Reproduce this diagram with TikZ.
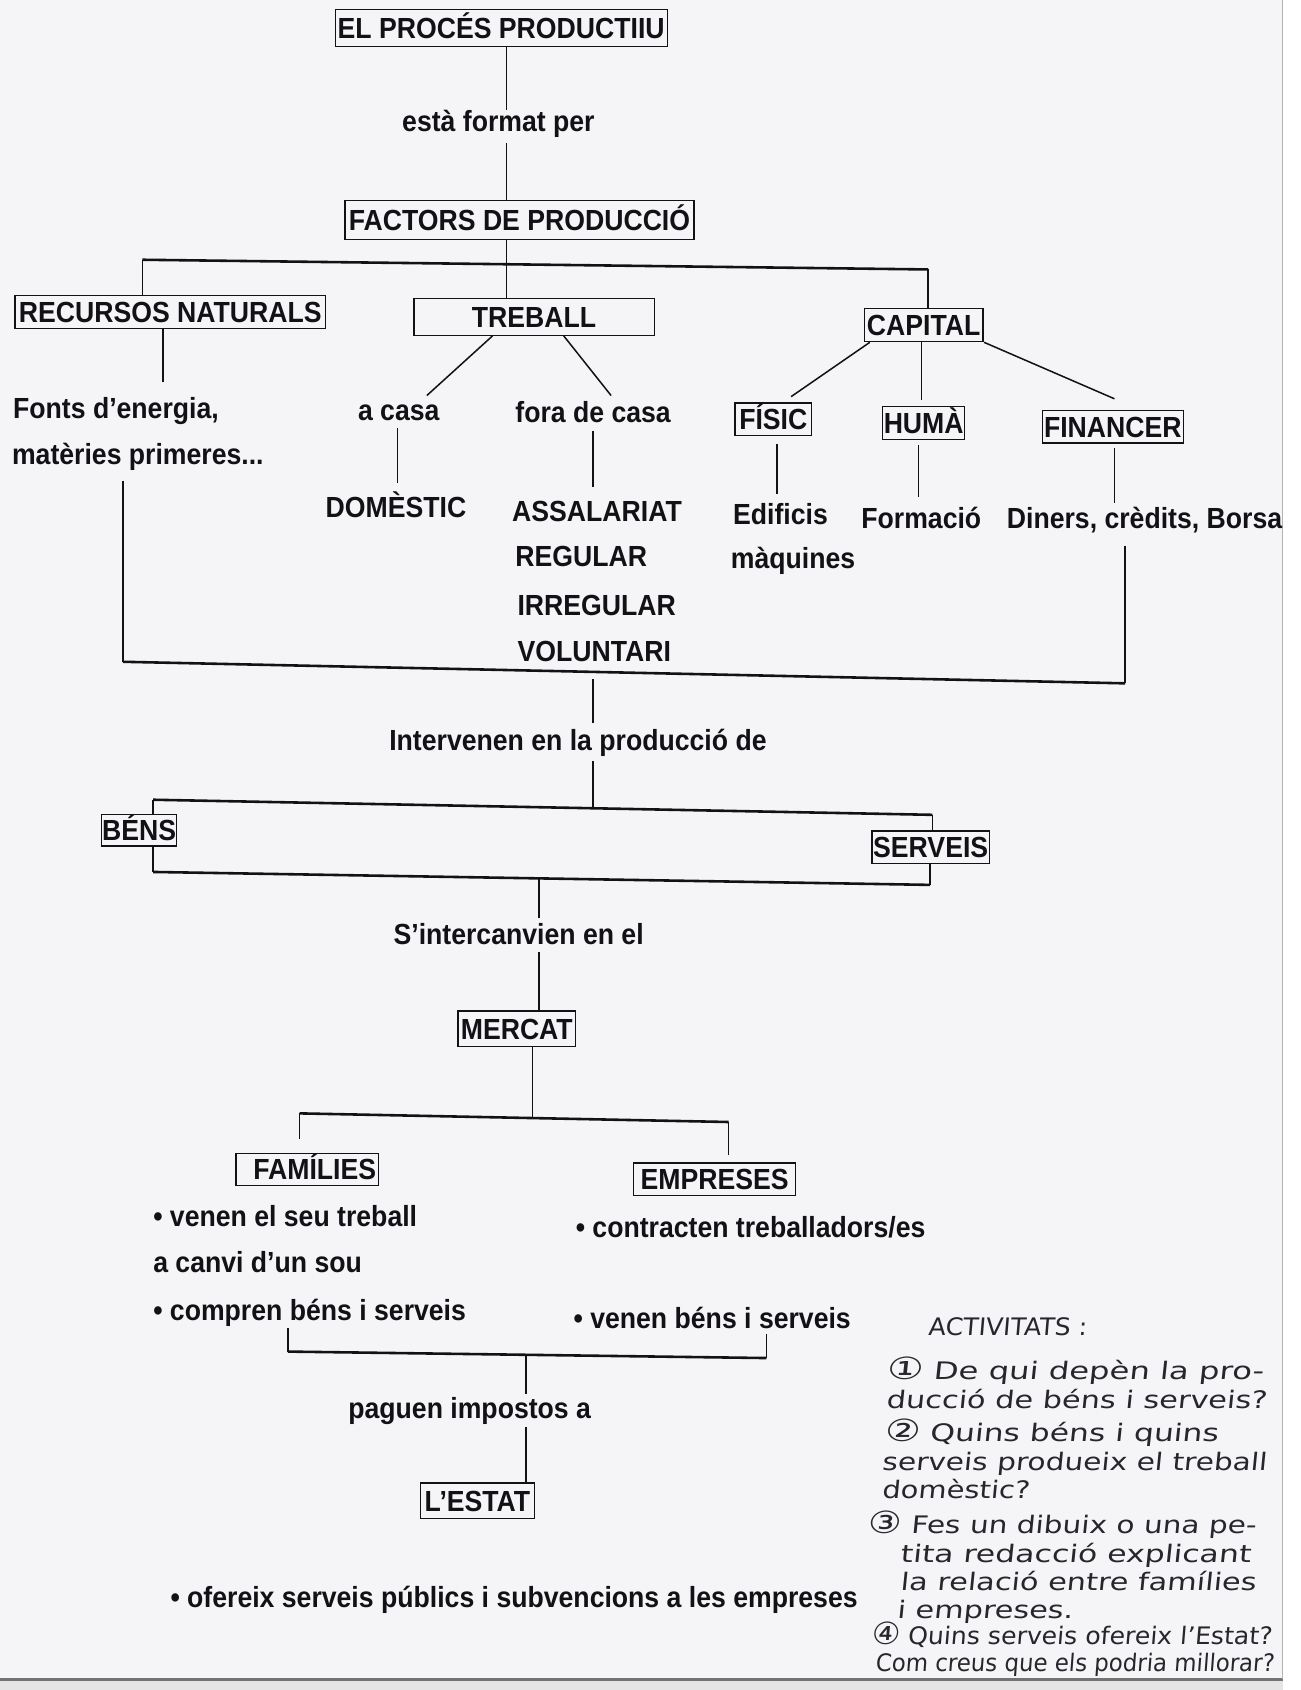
\documentclass[tikz,border=0pt]{standalone}
\usepackage{fontspec}
\usepackage{graphicx}
\setmainfont{Liberation Sans}[FakeStretch=0.915]
\newfontfamily\handfont{DejaVu Sans}[FakeSlant=0.08]
\definecolor{paper}{RGB}{245,245,248}
\definecolor{ink}{RGB}{18,18,22}
\definecolor{pen}{RGB}{38,38,44}
\newcommand\hwl[2]{\resizebox{#1pt}{0.86\height}{\handfont #2}}
\newcommand\cnum[1]{{\fontsize{33}{33}\selectfont #1}}
\begin{document}
\begin{tikzpicture}[x=1pt,y=-1pt,
  lbl/.style={font=\fontsize{27}{32}\selectfont\bfseries, text=ink, inner sep=0pt, anchor=base west},
  fbox/.style={font=\fontsize{27}{32}\selectfont\bfseries, text=ink, draw=ink, line width=1.2pt,
               inner xsep=0pt, inner ysep=0pt, text height=19.3pt, text depth=0pt},
  link/.style={draw=ink, line width=1.4pt},
  brk/.style={draw=ink, line width=2.4pt},
  hw/.style={font=\fontsize{26}{30}\selectfont, text=pen, inner sep=0pt, anchor=base west}
]
\useasboundingbox (0,0) rectangle (1207,1568);
\fill[white] (0,0) rectangle (1207,1568);
\fill[paper] (0,0) rectangle (1190,1558);
\fill[black!10] (0,1558) rectangle (1190,1568);
\draw[black!55, line width=3pt] (0,1558) -- (1190,1558);
\draw[black!30, line width=1pt] (1190,0) -- (1190,1558);

% ---------- boxes ----------
\node[fbox, minimum width=308pt, minimum height=34.6pt] (b1) at (465,26) {EL PROCÉS PRODUCTIIU};
\node[fbox, minimum width=324pt, minimum height=36.5pt] (b2) at (482,204) {FACTORS DE PRODUCCIÓ};
\node[fbox, minimum width=288pt, minimum height=31pt] (rec) at (158,289.5) {RECURSOS NATURALS};
\node[fbox, minimum width=223pt, minimum height=34pt] (tre) at (495.5,294) {TREBALL};
\node[fbox, minimum width=110pt, minimum height=31pt] (cap) at (857,301.5) {CAPITAL};
\node[fbox, minimum width=71pt, minimum height=30pt] (fis) at (717.5,389) {FÍSIC};
\node[fbox, minimum width=76pt, minimum height=31pt] (hum) at (857,392.5) {HUMÀ};
\node[fbox, minimum width=131pt, minimum height=30pt] (fin) at (1032.5,396) {FINANCER};
\node[fbox, minimum width=70pt, minimum height=29pt] (bens) at (129,770.5) {BÉNS};
\node[fbox, minimum width=109pt, minimum height=30pt] (serv) at (863.5,786) {SERVEIS};
\node[fbox, minimum width=109pt, minimum height=33pt] (merc) at (479.5,954.5) {MERCAT};
\node[fbox, minimum width=132pt, minimum height=30pt, inner xsep=1pt] (fam) at (285,1085) {\hspace*{14pt}FAMÍLIES};
\node[fbox, minimum width=150pt, minimum height=30pt] (emp) at (663,1094) {EMPRESES};
\node[fbox, minimum width=106pt, minimum height=33pt] (est) at (443,1392.5) {L’ESTAT};

% ---------- plain labels ----------
\node[lbl] (l1) at (373,122) {està format per};
\node[lbl] (fonts) at (12,388) {Fonts d’energia,};
\node[lbl] (mat) at (11,431) {matèries primeres...};
\node[lbl] (acasa) at (332,390) {a casa};
\node[lbl] (fora) at (478,392) {fora de casa};
\node[lbl] (dom) at (302,480) {DOMÈSTIC};
\node[lbl] (ass) at (475,484) {ASSALARIAT};
\node[lbl] (reg) at (478,526) {REGULAR};
\node[lbl] (irr) at (480,571) {IRREGULAR};
\node[lbl] (vol) at (480,614) {VOLUNTARI};
\node[lbl] (edi) at (680,487) {Edificis};
\node[lbl] (maq) at (678,527) {màquines};
\node[lbl] (form) at (799,490) {Formació};
\begin{scope}
\clip (0,0) rectangle (1190,1558);
\node[lbl] (din) at (934,490) {Diners, crèdits, Borsa};
\end{scope}
\node[lbl] (l2) at (361,696) {Intervenen en la producció de};
\node[lbl] (l3) at (365,876) {S’intercanvien en el};
\node[lbl] (fam1) at (142,1138) {• venen el seu treball};
\node[lbl] (fam2) at (142,1181) {a canvi d’un sou};
\node[lbl] (fam3) at (142,1225) {• compren béns i serveis};
\node[lbl] (emp1) at (534,1148) {• contracten treballadors/es};
\node[lbl] (emp2) at (532,1233) {• venen béns i serveis};
\node[lbl] (l5) at (323,1316) {paguen impostos a};
\node[lbl] (est1) at (158,1491) {• ofereix serveis públics i subvencions a les empreses};

% ---------- coordinates ----------
\coordinate (c1a) at (470,102);
\coordinate (c1b) at (470,133);
\coordinate (k1) at (132,241);
\coordinate (k2) at (861,250);
\coordinate (f1) at (151,354);
\coordinate (t1) at (457,0);
\coordinate (t2) at (396,367);
\coordinate (t3) at (523,0);
\coordinate (t4) at (567,367);
\coordinate (d1) at (369,397);
\coordinate (d2) at (369,448);
\coordinate (a1) at (550,400);
\coordinate (a2) at (550,452);
\coordinate (p1) at (807,0);
\coordinate (p2) at (734,368);
\coordinate (p3) at (855,0);
\coordinate (p4) at (855,371);
\coordinate (p5) at (913,0);
\coordinate (p6) at (1034,370);
\coordinate (e1) at (721,412);
\coordinate (e2) at (721,458);
\coordinate (h1) at (852,413);
\coordinate (h2) at (852,461);
\coordinate (n1) at (1034,416);
\coordinate (n2) at (1034,467);
\coordinate (g1) at (114,446);
\coordinate (g2) at (114,614);
\coordinate (g3) at (1044,634);
\coordinate (g4) at (1044,507);
\coordinate (m1) at (550,630);
\coordinate (m2) at (550,671);
\coordinate (m3) at (550,706);
\coordinate (m4) at (550,750);
\coordinate (s1) at (142,742);
\coordinate (s2) at (865,756);
\coordinate (s3) at (142,809);
\coordinate (s4) at (863,821);
\coordinate (x1) at (500,815);
\coordinate (x2) at (500,852);
\coordinate (x3) at (500,883);
\coordinate (q0) at (494,1037);
\coordinate (q1) at (278,1033);
\coordinate (q2) at (676,1041);
\coordinate (q3) at (278,1057);
\coordinate (q4) at (676,1072);
\coordinate (r1) at (267,1232);
\coordinate (r2) at (267,1254);
\coordinate (r3) at (711,1260);
\coordinate (r4) at (711,1238);
\coordinate (u1) at (488,1257);
\coordinate (u2) at (488,1293);
\coordinate (u3) at (488,1324);

% ---------- connectors ----------
\draw[link] (b1.south -| c1a) -- (c1a);
\draw[link] (c1b) -- (b2.north -| c1b);
\draw[link] (b2.south -| c1a) -- (tre.north -| c1a);
\draw[link] (rec.north -| k1) -- (k1);
\draw[brk] (k1) -- (k2);
\draw[link] (k2) -- (cap.north -| k2);
\draw[link] (rec.south -| f1) -- (f1);
\draw[link] (tre.south -| t1) -- (t2);
\draw[link] (tre.south -| t3) -- (t4);
\draw[link] (d1) -- (d2);
\draw[link] (a1) -- (a2);
\draw[link] (cap.south -| p1) -- (p2);
\draw[link] (cap.south -| p3) -- (p4);
\draw[link] (cap.south -| p5) -- (p6);
\draw[link] (e1) -- (e2);
\draw[link] (h1) -- (h2);
\draw[link] (n1) -- (n2);
\draw[link] (g1) -- (g2);
\draw[brk] (g2) -- (g3);
\draw[link] (g3) -- (g4);
\draw[link] (m1) -- (m2);
\draw[link] (m3) -- (m4);
\draw[brk] (s1) -- (s2);
\draw[link] (s1) -- (bens.north -| s1);
\draw[link] (bens.south -| s1) -- (s3);
\draw[brk] (s3) -- (s4);
\draw[link] (s2) -- (serv.north -| s2);
\draw[link] (serv.south -| s4) -- (s4);
\draw[link] (x1) -- (x2);
\draw[link] (x3) -- (merc.north -| x3);
\draw[link] (merc.south -| q0) -- (q0);
\draw[brk] (q1) -- (q2);
\draw[link] (q1) -- (q3);
\draw[link] (q2) -- (q4);
\draw[link] (r1) -- (r2);
\draw[brk] (r2) -- (r3);
\draw[link] (r3) -- (r4);
\draw[link] (u1) -- (u2);
\draw[link] (u3) -- (est.north -| u3);

% ---------- handwritten notes ----------
\node[hw] (h01) at (861,1239) {\hwl{147}{ACTIVITATS :}};
\node[hw] (h02) at (822,1280) {\hwl{350}{\cnum{①} De qui depèn la pro-}};
\node[hw] (h03) at (822,1307) {\hwl{353}{ducció de béns i serveis?}};
\node[hw] (h04) at (820,1337) {\hwl{310}{\cnum{②} Quins béns i quins}};
\node[hw] (h05) at (818,1364) {\hwl{357}{serveis produeix el treball}};
\node[hw] (h06) at (818,1390) {\hwl{137}{domèstic?}};
\node[hw] (h07) at (805,1423) {\hwl{360}{\cnum{③} Fes un dibuix o una pe-}};
\node[hw] (h08) at (835,1450) {\hwl{325}{tita redacció explicant}};
\node[hw] (h09) at (835,1476) {\hwl{330}{la relació entre famílies}};
\node[hw] (h10) at (832,1502) {\hwl{163}{i empreses.}};
\node[hw] (h11) at (808,1526) {\hwl{372}{\cnum{④} Quins serveis ofereix l’Estat?}};
\node[hw] (h12) at (812,1551) {\hwl{370}{Com creus que els podria millorar?}};
\end{tikzpicture}
\end{document}
